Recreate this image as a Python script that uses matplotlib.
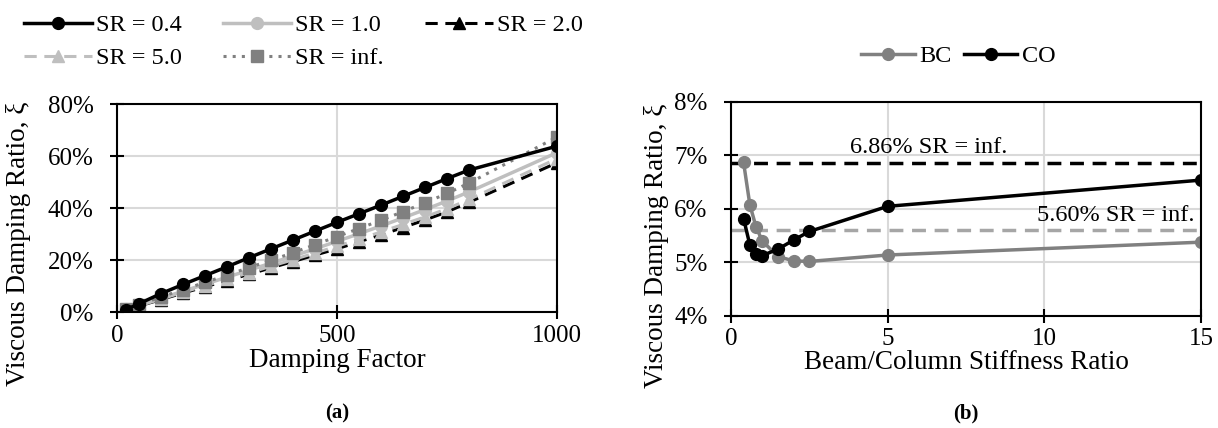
#!/usr/bin/env python3
"""Viscous damping ratio vs damping factor and vs beam/column stiffness ratio."""

import matplotlib
matplotlib.use("Agg")
import matplotlib.pyplot as plt
from matplotlib.ticker import FuncFormatter

plt.rcParams["font.family"] = ["Liberation Serif", "DejaVu Serif"]

# (a) damping ratio [%] vs damping factor for each stiffness ratio
damping_factor = [20, 50, 100, 150, 200, 250, 300, 350, 400, 450, 500,
                  550, 600, 650, 700, 750, 800, 1000]
sr_04 = [0.9, 3.2, 7.1, 10.6, 14.0, 17.4, 20.9, 24.3, 27.7, 31.1, 34.5,
         37.8, 41.1, 44.5, 47.9, 51.3, 54.6, 63.8]
sr_10 = [1.1, 2.6, 5.3, 8.0, 10.7, 13.4, 16.1, 18.8, 21.5, 24.3, 27.2,
         30.1, 33.1, 36.2, 39.4, 42.7, 46.2, 61.3]
sr_20 = [1.0, 2.3, 4.8, 7.3, 9.7, 12.1, 14.5, 17.0, 19.4, 21.9, 24.3,
         27.0, 29.7, 32.5, 35.4, 38.5, 42.2, 57.4]
sr_50 = [1.0, 2.4, 5.0, 7.6, 10.1, 12.6, 15.1, 17.6, 20.1, 22.7, 25.3,
         28.0, 30.8, 33.7, 36.6, 39.7, 43.3, 59.0]
sr_inf = [1.2, 2.8, 5.8, 8.6, 11.4, 14.2, 17.1, 19.9, 22.8, 25.9, 29.0,
          32.1, 35.3, 38.6, 42.0, 45.6, 49.6, 67.3]

# (b) damping ratio [%] vs beam/column stiffness ratio
stiffness_ratio = [0.4, 0.6, 0.8, 1.0, 1.5, 2.0, 2.5, 5.0, 15.0]
bc = [6.87, 6.08, 5.66, 5.40, 5.11, 5.03, 5.02, 5.14, 5.38]
co = [5.82, 5.33, 5.16, 5.13, 5.25, 5.42, 5.58, 6.05, 6.54]
co_inf = 6.86
bc_inf = 5.60

FS = 17.5
LABEL_FS = 19.5
LIGHT = "#bfbfbf"
MID = "#808080"
GRID = "#d9d9d9"


def style_axes(ax):
    ax.grid(True, color=GRID, linewidth=1.5)
    ax.set_axisbelow(True)
    for side in ax.spines.values():
        side.set_linewidth(1.5)
    ax.tick_params(direction="inout", length=10, width=1.5, labelsize=18)
    ax.tick_params(axis="x", pad=4)
    ax.tick_params(axis="y", pad=12)


fig = plt.figure(figsize=(12.18, 4.28), dpi=100)
ax1 = fig.add_axes([0.0961, 0.271, 0.3612, 0.486])
ax2 = fig.add_axes([0.6002, 0.2617, 0.3859, 0.5])

pct = FuncFormatter(lambda v, _: f"{v:.0f}%")

# ---- panel (a)
l20, = ax1.plot(damping_factor, sr_20, color="black", lw=2.2, ls=(0, (4, 2.5)),
                marker="^", ms=8, label="SR = 2.0")
l50, = ax1.plot(damping_factor, sr_50, color=LIGHT, lw=2.2, ls=(0, (4, 2.5)),
                marker="^", ms=8, label="SR = 5.0")
l10, = ax1.plot(damping_factor, sr_10, color=LIGHT, lw=2.5,
                marker="o", ms=8.5, label="SR = 1.0")
linf, = ax1.plot(damping_factor, sr_inf, color=MID, lw=2.2, ls=(0, (1, 2)),
                 marker="s", ms=9, label="SR = inf.")
l04, = ax1.plot(damping_factor, sr_04, color="black", lw=2.5,
                marker="o", ms=8.5, label="SR = 0.4")

ax1.set_xlim(0, 1000)
ax1.set_ylim(0, 80)
ax1.set_xticks([0, 500, 1000])
ax1.set_yticks([0, 20, 40, 60, 80])
ax1.yaxis.set_major_formatter(pct)
style_axes(ax1)
ax1.set_xlabel("Damping Factor", fontsize=LABEL_FS, labelpad=1)
ax1.set_ylabel("Viscous Damping Ratio, ξ", fontsize=LABEL_FS)
ax1.yaxis.set_label_coords(-0.195, 0.33)

fig.legend([l04, l50, l10, linf, l20],
           ["SR = 0.4", "SR = 5.0", "SR = 1.0", "SR = inf.", "SR = 2.0"],
           ncol=3, loc="upper left", bbox_to_anchor=(0.002, 1.018),
           frameon=False, fontsize=FS, handlelength=2.8, handletextpad=0.15,
           columnspacing=1.7, labelspacing=0.45)

# ---- panel (b)
ax2.plot([0, 15], [co_inf, co_inf], color="black", lw=2.5, ls=(0, (4, 2.5)))
ax2.plot([0, 15], [bc_inf, bc_inf], color="#a6a6a6", lw=2.5, ls=(0, (4, 2.5)))
hb, = ax2.plot(stiffness_ratio, bc, color=MID, lw=2.5, marker="o", ms=8.5,
               label="BC")
hc, = ax2.plot(stiffness_ratio, co, color="black", lw=2.5, marker="o", ms=8.5,
               label="CO")
ax2.text(6.3, co_inf + 0.1, f"{co_inf:.2f}% SR = inf.", fontsize=FS,
         ha="center", va="bottom")
ax2.text(14.8, bc_inf + 0.08, f"{bc_inf:.2f}% SR = inf.", fontsize=FS,
         ha="right", va="bottom")

ax2.set_xlim(0, 15)
ax2.set_ylim(4, 8)
ax2.set_xticks([0, 5, 10, 15])
ax2.set_yticks([4, 5, 6, 7, 8])
ax2.yaxis.set_major_formatter(pct)
style_axes(ax2)
ax2.set_xlabel("Beam/Column Stiffness Ratio", fontsize=LABEL_FS, labelpad=0)
ax2.set_ylabel("Viscous Damping Ratio, ξ", fontsize=LABEL_FS)
ax2.yaxis.set_label_coords(-0.132, 0.33)

fig.legend([hb, hc], ["BC", "CO"], ncol=2, loc="upper center",
           bbox_to_anchor=(0.787, 0.945), frameon=False, fontsize=FS,
           handlelength=2.2, handletextpad=0.2, columnspacing=0.5)

fig.text(0.277, 0.022, "(a)", fontsize=15, fontweight="bold", ha="center")
fig.text(0.793, 0.022, "(b)", fontsize=15, fontweight="bold", ha="center")

fig.savefig("out.png", dpi=100)
